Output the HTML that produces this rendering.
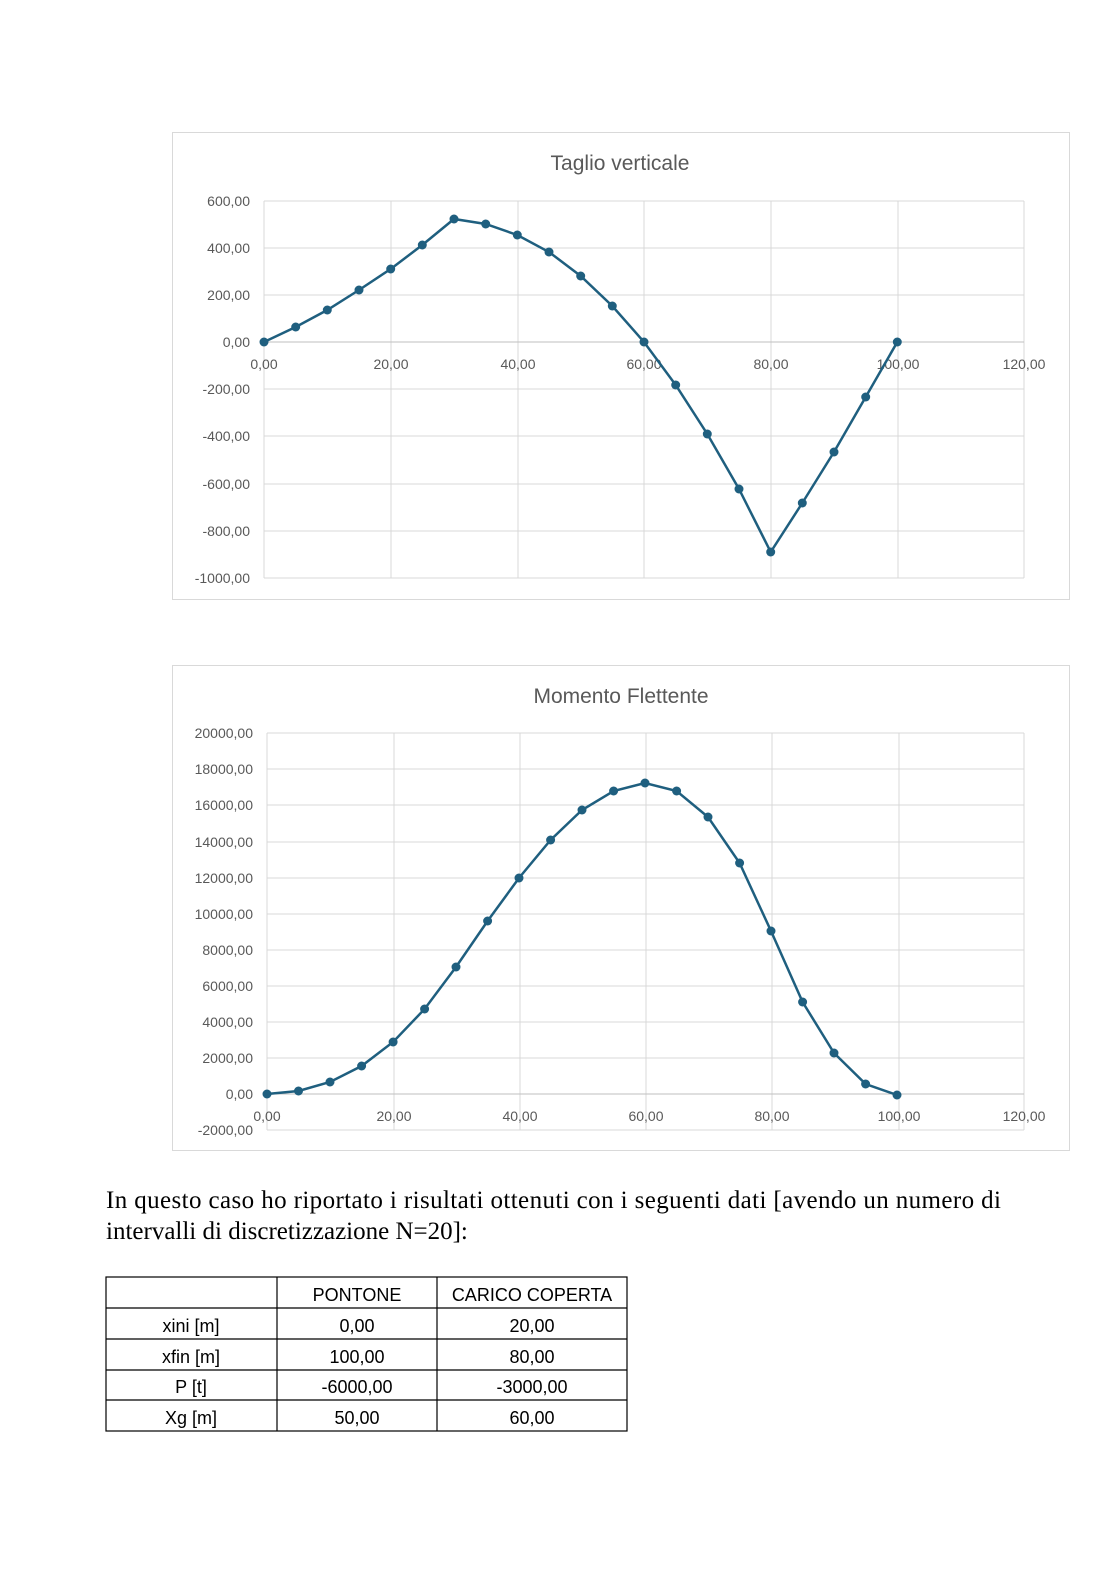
<!DOCTYPE html>
<html><head><meta charset="utf-8"><style>
body{margin:0;background:#fff}
svg text{font-family:"Liberation Sans",sans-serif}
</style></head><body>
<svg width="1116" height="1579" viewBox="0 0 1116 1579" xmlns="http://www.w3.org/2000/svg">
<rect width="1116" height="1579" fill="#fff"/>
<rect x="172.5" y="132.5" width="897" height="467" fill="none" stroke="#d9d9d9"/>
<text x="620" y="170" font-size="21" fill="#595959" text-anchor="middle">Taglio verticale</text>
<g stroke="#d9d9d9" stroke-width="1">
<line x1="264" y1="201" x2="1024" y2="201"/><line x1="264" y1="248" x2="1024" y2="248"/>
<line x1="264" y1="295" x2="1024" y2="295"/><line x1="264" y1="389" x2="1024" y2="389"/>
<line x1="264" y1="436" x2="1024" y2="436"/><line x1="264" y1="484" x2="1024" y2="484"/>
<line x1="264" y1="531" x2="1024" y2="531"/><line x1="264" y1="578" x2="1024" y2="578"/>
<line x1="264" y1="201" x2="264" y2="578"/><line x1="391" y1="201" x2="391" y2="578"/>
<line x1="518" y1="201" x2="518" y2="578"/><line x1="644" y1="201" x2="644" y2="578"/>
<line x1="771" y1="201" x2="771" y2="578"/><line x1="898" y1="201" x2="898" y2="578"/>
<line x1="1024" y1="201" x2="1024" y2="578"/>
</g>
<line x1="264" y1="342" x2="1024" y2="342" stroke="#bfbfbf"/>
<g font-size="14" fill="#595959" text-anchor="end">
<text x="250" y="206">600,00</text><text x="250" y="253">400,00</text><text x="250" y="300">200,00</text>
<text x="250" y="347">0,00</text><text x="250" y="394">-200,00</text><text x="250" y="441">-400,00</text>
<text x="250" y="489">-600,00</text><text x="250" y="536">-800,00</text><text x="250" y="583">-1000,00</text>
</g>
<g font-size="14" fill="#595959" text-anchor="middle">
<text x="264" y="369">0,00</text><text x="391" y="369">20,00</text><text x="518" y="369">40,00</text>
<text x="644" y="369">60,00</text><text x="771" y="369">80,00</text><text x="898" y="369">100,00</text><text x="1024" y="369">120,00</text>
</g>
<polyline fill="none" stroke="#1f5f7f" stroke-width="2.5" points="264,342 295.7,327 327.3,310 359,290 390.7,269 422.3,245 454,219 485.7,224 517.3,235 549,252 580.7,276 612.3,306 644,342 675.7,385 707.3,434 739,489 770.7,552 802.3,503 834,452 865.7,397 897.3,342"/>
<g fill="#1f5f7f">
<circle cx="264" cy="342" r="4.5"/><circle cx="295.7" cy="327" r="4.5"/><circle cx="327.3" cy="310" r="4.5"/><circle cx="359" cy="290" r="4.5"/><circle cx="390.7" cy="269" r="4.5"/><circle cx="422.3" cy="245" r="4.5"/><circle cx="454" cy="219" r="4.5"/><circle cx="485.7" cy="224" r="4.5"/><circle cx="517.3" cy="235" r="4.5"/><circle cx="549" cy="252" r="4.5"/><circle cx="580.7" cy="276" r="4.5"/><circle cx="612.3" cy="306" r="4.5"/><circle cx="644" cy="342" r="4.5"/><circle cx="675.7" cy="385" r="4.5"/><circle cx="707.3" cy="434" r="4.5"/><circle cx="739" cy="489" r="4.5"/><circle cx="770.7" cy="552" r="4.5"/><circle cx="802.3" cy="503" r="4.5"/><circle cx="834" cy="452" r="4.5"/><circle cx="865.7" cy="397" r="4.5"/><circle cx="897.3" cy="342" r="4.5"/>
</g>
<rect x="172.5" y="665.5" width="897" height="485" fill="none" stroke="#d9d9d9"/>
<text x="621" y="703" font-size="21" fill="#595959" text-anchor="middle">Momento Flettente</text>
<g stroke="#d9d9d9" stroke-width="1">
<line x1="267" y1="733" x2="1024" y2="733"/><line x1="267" y1="769" x2="1024" y2="769"/>
<line x1="267" y1="805" x2="1024" y2="805"/><line x1="267" y1="842" x2="1024" y2="842"/>
<line x1="267" y1="878" x2="1024" y2="878"/><line x1="267" y1="914" x2="1024" y2="914"/>
<line x1="267" y1="950" x2="1024" y2="950"/><line x1="267" y1="986" x2="1024" y2="986"/>
<line x1="267" y1="1022" x2="1024" y2="1022"/><line x1="267" y1="1058" x2="1024" y2="1058"/>
<line x1="267" y1="1130" x2="1024" y2="1130"/>
<line x1="267" y1="733" x2="267" y2="1130"/><line x1="394" y1="733" x2="394" y2="1130"/>
<line x1="520" y1="733" x2="520" y2="1130"/><line x1="646" y1="733" x2="646" y2="1130"/>
<line x1="772" y1="733" x2="772" y2="1130"/><line x1="899" y1="733" x2="899" y2="1130"/>
<line x1="1024" y1="733" x2="1024" y2="1130"/>
</g>
<line x1="267" y1="1094" x2="1024" y2="1094" stroke="#bfbfbf"/>
<g font-size="14" fill="#595959" text-anchor="end">
<text x="253" y="738">20000,00</text><text x="253" y="774">18000,00</text><text x="253" y="810">16000,00</text>
<text x="253" y="847">14000,00</text><text x="253" y="883">12000,00</text><text x="253" y="919">10000,00</text>
<text x="253" y="955">8000,00</text><text x="253" y="991">6000,00</text><text x="253" y="1027">4000,00</text>
<text x="253" y="1063">2000,00</text><text x="253" y="1099">0,00</text><text x="253" y="1135">-2000,00</text>
</g>
<g font-size="14" fill="#595959" text-anchor="middle">
<text x="267" y="1121">0,00</text><text x="394" y="1121">20,00</text><text x="520" y="1121">40,00</text>
<text x="646" y="1121">60,00</text><text x="772" y="1121">80,00</text><text x="899" y="1121">100,00</text><text x="1024" y="1121">120,00</text>
</g>
<polyline fill="none" stroke="#1f5f7f" stroke-width="2.5" points="267,1094 298.5,1091 330,1082 361.6,1066 393.1,1042 424.6,1009 456,967 487.6,921 519,878 550.6,840 582,810 613.6,791 645,783 676.6,791 708,817 739.6,863 771,931 802.6,1002 834,1053 865.6,1084 897,1095"/>
<g fill="#1f5f7f">
<circle cx="267" cy="1094" r="4.5"/><circle cx="298.5" cy="1091" r="4.5"/><circle cx="330" cy="1082" r="4.5"/><circle cx="361.6" cy="1066" r="4.5"/><circle cx="393.1" cy="1042" r="4.5"/><circle cx="424.6" cy="1009" r="4.5"/><circle cx="456" cy="967" r="4.5"/><circle cx="487.6" cy="921" r="4.5"/><circle cx="519" cy="878" r="4.5"/><circle cx="550.6" cy="840" r="4.5"/><circle cx="582" cy="810" r="4.5"/><circle cx="613.6" cy="791" r="4.5"/><circle cx="645" cy="783" r="4.5"/><circle cx="676.6" cy="791" r="4.5"/><circle cx="708" cy="817" r="4.5"/><circle cx="739.6" cy="863" r="4.5"/><circle cx="771" cy="931" r="4.5"/><circle cx="802.6" cy="1002" r="4.5"/><circle cx="834" cy="1053" r="4.5"/><circle cx="865.6" cy="1084" r="4.5"/><circle cx="897" cy="1095" r="4.5"/>
</g>
<g font-size="25" fill="#000">
<text x="106" y="1208" textLength="895" lengthAdjust="spacing" style="font-family:'Liberation Serif',serif">In questo caso ho riportato i risultati ottenuti con i seguenti dati [avendo un numero di</text>
<text x="106" y="1239" style="font-family:'Liberation Serif',serif">intervalli di discretizzazione N=20]:</text>
</g>
<g stroke="#000" stroke-width="1.2" fill="none">
<rect x="106" y="1277" width="521" height="154"/>
<line x1="106" y1="1308" x2="627" y2="1308"/><line x1="106" y1="1339" x2="627" y2="1339"/>
<line x1="106" y1="1370" x2="627" y2="1370"/><line x1="106" y1="1400" x2="627" y2="1400"/>
<line x1="277" y1="1277" x2="277" y2="1431"/><line x1="437" y1="1277" x2="437" y2="1431"/>
</g>
<g font-size="18" fill="#000" text-anchor="middle">
<text x="357" y="1301">PONTONE</text><text x="532" y="1301">CARICO COPERTA</text>
<text x="191" y="1332">xini [m]</text><text x="357" y="1332">0,00</text><text x="532" y="1332">20,00</text>
<text x="191" y="1363">xfin [m]</text><text x="357" y="1363">100,00</text><text x="532" y="1363">80,00</text>
<text x="191" y="1393">P [t]</text><text x="357" y="1393">-6000,00</text><text x="532" y="1393">-3000,00</text>
<text x="191" y="1424">Xg [m]</text><text x="357" y="1424">50,00</text><text x="532" y="1424">60,00</text>
</g>
</svg>
</body></html>
